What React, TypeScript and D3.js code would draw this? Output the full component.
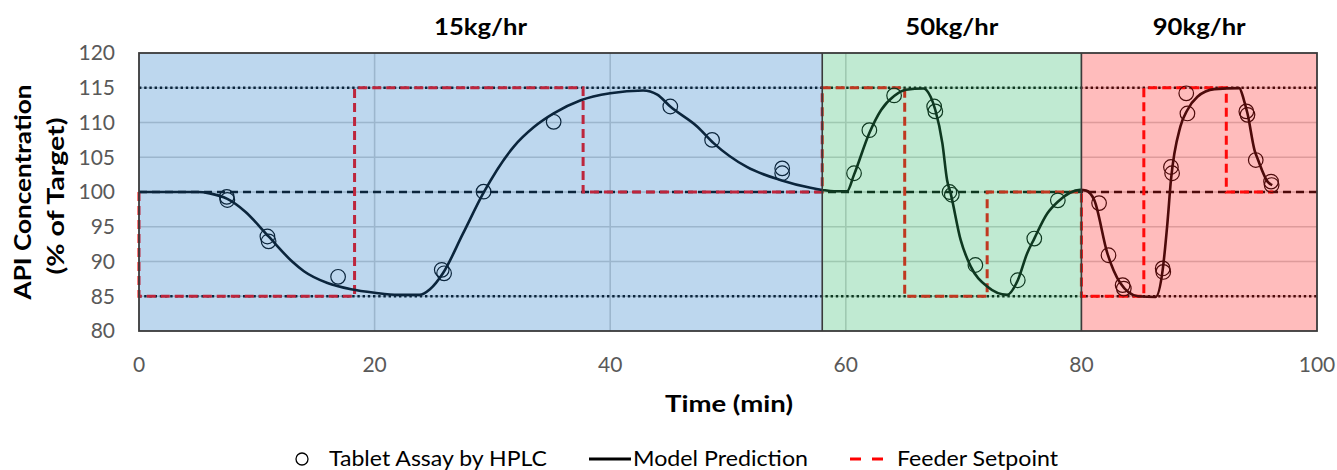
import React from "react";
import * as d3 from "d3";

// ---------- data ----------
const modelT = [0, 5, 6, 7.5, 9, 11, 13, 14, 16, 18, 20, 22, 23.8, 24.7, 25.8, 27.5, 29.25, 31.8, 33.5, 35.2, 37.5, 40, 42.8, 44, 45.1, 47.4, 48.8, 51.6, 54.5, 57, 58, 59, 60.1, 60.7, 62, 63, 64.1, 65.1, 66.6, 67.2, 67.6, 68.2, 68.6, 68.9, 69.75, 70.6, 72, 73.7, 74.6, 75.4, 76, 77.1, 78, 79.9, 80.4, 81.1, 82.2, 83.3, 84.8, 86.3, 86.9, 87.3, 87.6, 88.4, 89, 89.85, 91.3, 93.4, 93.8, 94.1, 94.7, 95, 95.8, 96.2];
const modelV = [100, 100, 99.8, 99, 97.2, 93.6, 90, 88.6, 86.9, 86, 85.5, 85.2, 85.2, 86, 88.3, 94, 99.9, 106.5, 109.3, 111.3, 113.2, 114.2, 114.6, 114, 112.3, 109.4, 107, 103.6, 101.7, 100.6, 100.3, 100.1, 100.1, 102.5, 108.5, 111.8, 113.8, 114.7, 114.9, 113.7, 111.8, 107, 101.7, 99.8, 93.1, 89.3, 86.4, 85.2, 87.3, 91.2, 93.3, 96.9, 98.6, 100.3, 100.2, 98.8, 91.2, 86.9, 85, 84.9, 88.8, 95.5, 101.7, 109.4, 111.8, 113.7, 114.8, 114.95, 113.2, 111.3, 106, 104.6, 101.5, 101];

const hplcT = [7.45, 7.5, 10.9, 11.0, 16.9, 25.7, 25.9, 29.25, 35.2, 45.1, 48.65, 54.6, 54.6, 60.7, 62.0, 64.1, 67.5, 67.6, 68.8, 69.0, 71.0, 74.6, 76.0, 78.0, 81.5, 82.3, 83.5, 83.6, 86.9, 86.95, 87.6, 87.7, 88.9, 89.0, 94.0, 94.1, 94.8, 96.1, 96.15];
const hplcV = [99.3, 98.85, 93.6, 92.9, 87.8, 88.8, 88.3, 100.05, 110.1, 112.3, 107.5, 103.4, 102.7, 102.7, 108.9, 113.9, 112.3, 111.6, 100.0, 99.6, 89.5, 87.3, 93.3, 98.8, 98.4, 90.9, 86.6, 86.1, 89.0, 88.5, 103.6, 102.7, 114.2, 111.3, 111.6, 111.1, 104.6, 101.5, 101.0];

const setT = [0, 0, 18.3, 37.7, 58, 65, 72, 80, 85.3, 92.3, 96.3];
const setV = [100, 85, 115, 100, 115, 85, 100, 85, 115, 100, 100];

const regionStart = [0, 58, 80];
const regionEnd = [58, 80, 100];
const regionLabels = ["15kg/hr", "50kg/hr", "90kg/hr"];
const regionColors = ["#237ac6", "#2db969", "#ff2020"];

const xTicks = [0, 20, 40, 60, 80, 100];
const yTicks = [80, 85, 90, 95, 100, 105, 110, 115, 120];
const dottedLevels = [85, 115];
const dashedLevels = [100];

const legendItems = ["Tablet Assay by HPLC", "Model Prediction", "Feeder Setpoint"];

// ---------- layout ----------
const W = 1337, H = 470;
const M = { left: 139, right: 1317, top: 53, bottom: 331 };
const FONT = "Lato, 'Noto Sans', sans-serif";

export default function App() {
  const x = d3.scaleLinear().domain([0, 100]).range([M.left, M.right]);
  const y = d3.scaleLinear().domain([80, 120]).range([M.bottom, M.top]);

  const modelLine = d3
    .line<number>()
    .x((_, i) => x(modelT[i]))
    .y((_, i) => y(modelV[i]))
    .curve(d3.curveMonotoneX)(modelV.map((v) => v)) as string;

  const setLine = d3
    .line<number>()
    .x((_, i) => x(setT[i]))
    .y((_, i) => y(setV[i]))
    .curve(d3.curveStepAfter)(setV.map((v) => v)) as string;

  const gridGray = "#d0d0d0";
  const cy = (M.top + M.bottom) / 2;

  return (
    <svg
      width={W}
      height={H}
      style={{ position: "absolute", left: 0, top: 0, display: "block", background: "#fff" }}
      fontFamily={FONT}
    >
      {/* gridlines */}
      <g>
        {yTicks.filter((t) => t > 80 && t < 120).map((t) => (
          <line key={"gy" + t} x1={M.left} x2={M.right} y1={y(t)} y2={y(t)} stroke={gridGray} strokeWidth={1.6} />
        ))}
        {xTicks.filter((t) => t > 0 && t < 100).map((t) => (
          <line key={"gx" + t} x1={x(t)} x2={x(t)} y1={M.top} y2={M.bottom} stroke={gridGray} strokeWidth={1.6} />
        ))}
      </g>

      {/* reference lines */}
      {dottedLevels.map((v) => (
        <line key={"dot" + v} x1={M.left} x2={M.right} y1={y(v)} y2={y(v)} stroke="#000" strokeWidth={2.4} strokeDasharray="2.4,2.8" />
      ))}
      {dashedLevels.map((v) => (
        <line key={"dash" + v} x1={M.left} x2={M.right} y1={y(v)} y2={y(v)} stroke="#000" strokeWidth={2.4} strokeDasharray="8,5" />
      ))}

      {/* feeder setpoint */}
      <path d={setLine} fill="none" stroke="#ff0000" strokeWidth={3} strokeDasharray="9,5" />

      {/* model prediction */}
      <path d={modelLine} fill="none" stroke="#000" strokeWidth={2.6} strokeLinejoin="round" />

      {/* HPLC markers */}
      {hplcV.map((v, i) => (
        <circle key={"m" + i} cx={x(hplcT[i])} cy={y(v)} r={7.3} fill="none" stroke="#000" strokeWidth={1.2} />
      ))}

      {/* translucent regions */}
      {regionStart.map((s, i) => (
        <rect
          key={"r" + i}
          x={x(s)}
          y={M.top}
          width={x(regionEnd[i]) - x(s)}
          height={M.bottom - M.top}
          fill={regionColors[i]}
          fillOpacity={0.3}
        />
      ))}

      {/* borders and separators */}
      <rect x={M.left} y={M.top} width={M.right - M.left} height={M.bottom - M.top} fill="none" stroke="#3a3a3a" strokeWidth={1.8} />
      {regionStart.slice(1).map((s) => (
        <line key={"sep" + s} x1={x(s)} x2={x(s)} y1={M.top} y2={M.bottom} stroke="#3a3a3a" strokeWidth={1.6} />
      ))}

      {/* region labels */}
      {regionLabels.map((l, i) => (
        <text
          key={"rl" + i}
          x={x((regionStart[i] + regionEnd[i]) / 2)}
          y={35}
          textAnchor="middle"
          fontWeight="bold"
          fontSize={22}
          fill="#000"
          textLength={93}
          lengthAdjust="spacingAndGlyphs"
        >
          {l}
        </text>
      ))}

      {/* y tick labels */}
      {yTicks.map((t) => (
        <text key={"yt" + t} x={115} y={y(t)} dy="0.35em" textAnchor="end" fontSize={21} fill="#595959">
          {t}
        </text>
      ))}
      {/* x tick labels */}
      {xTicks.map((t) => (
        <text key={"xt" + t} x={x(t)} y={365} dy="0.35em" textAnchor="middle" fontSize={21} fill="#595959">
          {t}
        </text>
      ))}

      {/* axis titles */}
      <text
        transform={`translate(31,${cy}) rotate(-90)`}
        textAnchor="middle"
        fontWeight="bold"
        fontSize={23}
        fill="#000"
        textLength={215}
        lengthAdjust="spacingAndGlyphs"
      >
        API Concentration
      </text>
      <text
        transform={`translate(64,${cy + 4}) rotate(-90)`}
        textAnchor="middle"
        fontWeight="bold"
        fontSize={23}
        fill="#000"
        textLength={157}
        lengthAdjust="spacingAndGlyphs"
      >
        (% of Target)
      </text>
      <text
        x={729}
        y={404}
        dy="0.35em"
        textAnchor="middle"
        fontWeight="bold"
        fontSize={22}
        fill="#000"
        textLength={128}
        lengthAdjust="spacingAndGlyphs"
      >
        Time (min)
      </text>

      {/* legend */}
      <g fontSize={21} fill="#000">
        <circle cx={302} cy={459} r={6} fill="none" stroke="#000" strokeWidth={1.3} />
        <text x={329} y={459} dy="0.35em" textLength={218} lengthAdjust="spacingAndGlyphs">
          {legendItems[0]}
        </text>
        <line x1={589} x2={631} y1={459} y2={459} stroke="#000" strokeWidth={3} />
        <text x={633} y={459} dy="0.35em" textLength={175} lengthAdjust="spacingAndGlyphs">
          {legendItems[1]}
        </text>
        <line x1={850} x2={883} y1={459} y2={459} stroke="#ff0000" strokeWidth={3} strokeDasharray="11,11" />
        <text x={897} y={459} dy="0.35em" textLength={161} lengthAdjust="spacingAndGlyphs">
          {legendItems[2]}
        </text>
      </g>
    </svg>
  );
}
